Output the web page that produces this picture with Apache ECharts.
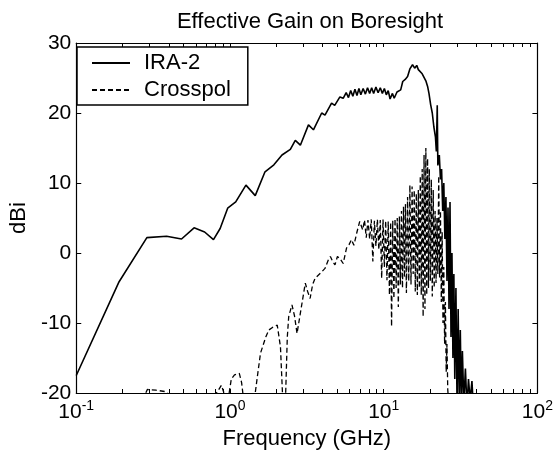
<!DOCTYPE html>
<html>
<head>
<meta charset="utf-8">
<script src="https://cdn.jsdelivr.net/npm/echarts@6/dist/echarts.min.js"></script>
<style>
  html, body { margin: 0; padding: 0; background: #fff; }
  #chart { width: 556px; height: 456px; }
</style>
</head>
<body>
<div id="chart"></div>
<script>
// frequency (GHz), gain (dBi)
const ira2 = [
  [0.1, -17.5], [0.19, -4.1], [0.288, 2.2], [0.387, 2.4], [0.484, 2.0], [0.584, 3.6],
  [0.684, 3.0], [0.781, 1.9], [0.863, 3.5], [0.966, 6.4], [1.09, 7.3], [1.27, 9.7],
  [1.46, 8.2], [1.69, 11.6], [1.93, 12.6], [2.18, 14.0], [2.47, 14.8], [2.66, 16.1],
  [2.87, 15.4], [3.24, 18.3], [3.49, 17.6], [3.95, 20.0], [4.15, 19.7], [4.58, 21.4],
  [4.8, 21.1], [5.19, 22.3], [5.45, 22.1], [5.7, 22.9], [5.9, 22.2], [6.1, 23.2],
  [6.3, 22.4], [6.5, 23.4], [6.7, 22.5], [6.9, 23.5], [7.1, 22.6], [7.35, 23.5],
  [7.6, 22.7], [7.85, 23.6], [8.1, 22.8], [8.35, 23.6], [8.6, 22.8], [8.9, 23.7],
  [9.2, 22.9], [9.5, 23.6], [9.8, 22.8], [10.1, 23.5], [10.4, 22.6], [10.7, 23.2],
  [11.0, 22.0], [11.4, 22.8], [11.7, 22.1], [12.2, 23.0], [12.9, 23.3], [13.3, 24.5],
  [13.8, 24.8], [14.3, 25.2], [14.8, 26.3], [15.4, 26.9], [15.9, 26.4], [16.4, 26.8],
  [16.8, 26.2], [17.3, 26.3], [17.8, 25.6], [18.3, 25.7], [18.8, 24.6], [19.3, 23.8],
  [19.7, 22.8], [20.2, 21.2], [20.7, 20.0], [21.2, 18.0], [21.7, 16.6], [22.0, 14.5],
  [22.3, 21.1], [22.5, 12.5], [23.0, 14.0], [23.4, 10.5], [23.8, 12.0], [24.2, 6.0],
  [24.6, 10.0], [25.0, 2.0], [25.4, 8.0], [25.8, -4.0], [26.2, 6.5], [26.6, -8.0],
  [27.0, 7.3], [27.4, -12.0], [27.8, 0.0], [28.2, -15.0], [28.6, -3.0], [29.0, -18.0],
  [29.5, -5.0], [30.0, -22.0], [30.5, -8.0], [31.0, -21.0], [31.5, -11.0], [32.0, -22.0],
  [32.5, -14.0], [33.2, -21.5], [34.0, -16.5], [34.8, -22.0], [35.6, -18.0], [36.5, -21.0],
  [37.5, -18.3], [38.5, -23.0]
];

const crosspol = [
  [0.27, -21.0], [0.29, -19.5], [0.33, -19.6], [0.38, -19.8], [0.42, -20.5], [0.78, -20.5],
  [0.83, -19.8], [0.88, -18.9], [0.93, -20.5], [0.98, -20.5], [1.02, -18.0], [1.07, -17.4],
  [1.15, -17.2], [1.19, -18.5], [1.22, -20.5], [1.45, -20.5], [1.5, -18.0], [1.58, -14.3],
  [1.71, -12.0], [1.79, -11.0], [1.9, -10.6], [2.03, -10.3], [2.13, -13.4], [2.2, -20.5],
  [2.3, -20.5], [2.36, -12.0], [2.41, -9.1], [2.53, -7.4], [2.63, -9.0], [2.73, -11.5],
  [2.87, -8.6], [3.09, -4.3], [3.2, -5.5], [3.32, -6.5], [3.45, -4.5], [3.58, -3.6],
  [3.95, -2.7], [4.15, -2.2], [4.36, -1.0], [4.5, -0.5], [4.65, -1.2], [4.82, -1.7],
  [5.0, -0.5], [5.2, -0.8], [5.45, -1.5], [5.73, 0.7], [5.95, 1.2], [6.17, 1.9],
  [6.4, 1.1], [6.7, 3.0], [6.98, 4.5], [7.3, 3.3], [7.5, 4.7], [7.7, 2.2],
  [7.9, 4.7], [8.1, 2.0], [8.3, 4.8], [8.5, -1.2], [8.7, 4.6], [8.9, 1.0],
  [9.1, 4.8], [9.3, 0.5], [9.5, 4.7], [9.7, -3.6], [9.9, 4.8], [10.1, -2.0],
  [10.3, 4.6], [10.5, -3.9], [10.7, 4.5], [10.9, -6.0], [11.1, 4.4], [11.25, -10.5],
  [11.45, 4.6], [11.65, -6.5], [11.85, 4.9], [12.05, -5.0], [12.25, 5.0], [12.45, -7.7],
  [12.65, 5.2], [12.85, -4.5], [13.05, 6.0], [13.25, -5.0], [13.45, 6.6], [13.65, -3.5],
  [13.85, 7.0], [14.05, -5.7], [14.3, 8.0], [14.55, -4.0], [14.8, 9.7], [15.05, -4.5],
  [15.3, 9.5], [15.55, -3.0], [15.8, 9.0], [16.05, -5.5], [16.3, 8.5], [16.55, -6.0],
  [16.8, 9.0], [17.05, -5.0], [17.3, 11.0], [17.55, -6.0], [17.8, 12.0], [18.05, -9.1],
  [18.3, 14.0], [18.55, -8.0], [18.8, 15.0], [19.05, -6.0], [19.3, 13.5], [19.55, -5.0],
  [19.8, 12.0], [20.1, -4.0], [20.4, 10.5], [20.7, -6.2], [21.0, 9.0], [21.3, -5.0],
  [21.6, 6.0], [21.9, -4.3], [22.2, 5.0], [22.5, -3.0], [22.8, 11.0], [23.1, -3.5],
  [23.4, 6.0], [23.7, -7.0], [24.0, 3.0], [24.3, -10.0], [24.6, -2.0], [24.9, -13.0],
  [25.2, -7.0], [25.5, -17.0], [25.8, -13.0], [26.1, -19.5], [26.4, -21.0]
];

const xTicks = [0.1, 0.2, 0.3, 0.4, 0.5, 0.6, 0.7, 0.8, 0.9,
  1, 2, 3, 4, 5, 6, 7, 8, 9, 10, 20, 30, 40, 50, 60, 70, 80, 90, 100];
const xLabels = [0.1, 1, 10, 100];

const chart = echarts.init(document.getElementById('chart'));

const font = 'Liberation Sans';
const axisLine = { show: true, onZero: false, lineStyle: { color: '#000', width: 1.2 } };

const option = {
  backgroundColor: '#fff',
  animation: false,
  textStyle: { fontFamily: font, color: '#000' },
  title: {
    text: 'Effective Gain on Boresight',
    left: 305,
    top: 6,
    textAlign: 'center',
    textStyle: { fontFamily: font, fontSize: 22, fontWeight: 'normal', color: '#000' }
  },
  legend: {
    orient: 'vertical',
    left: 77,
    top: 47,
    padding: [5, 17, 4, 14],
    itemWidth: 38,
    itemHeight: 14,
    itemGap: 5,
    borderColor: '#000',
    borderWidth: 1.5,
    backgroundColor: '#fff',
    itemStyle: { opacity: 0 },
    textStyle: { fontFamily: font, fontSize: 22, color: '#000', padding: [0, 0, 0, 9] },
    data: ['IRA-2', 'Crosspol']
  },
  grid: { left: 72, right: 18, top: 43, bottom: 63, containLabel: false },
  xAxis: [
    {
      type: 'log',
      logBase: 10,
      min: 0.1,
      max: 100,
      position: 'bottom',
      name: 'Frequency (GHz)',
      nameLocation: 'middle',
      nameGap: 34,
      nameTextStyle: { fontFamily: font, fontSize: 22, color: '#000' },
      axisLine: axisLine,
      axisTick: { show: true, inside: true, length: 4, customValues: xTicks, lineStyle: { color: '#000' } },
      minorTick: { show: false },
      splitLine: { show: false },
      axisLabel: {
        customValues: xLabels,
        margin: 6,
        formatter: v => '{b|10}{s|' + Math.round(Math.log10(v)) + '}',
        rich: {
          b: { fontFamily: font, fontSize: 21, color: '#000', lineHeight: 24, verticalAlign: 'bottom' },
          s: { fontFamily: font, fontSize: 14, color: '#000', lineHeight: 14, verticalAlign: 'top' }
        }
      }
    },
    {
      type: 'log',
      logBase: 10,
      min: 0.1,
      max: 100,
      position: 'top',
      axisLine: axisLine,
      axisTick: { show: true, inside: true, length: 4, customValues: xTicks, lineStyle: { color: '#000' } },
      axisLabel: { show: false },
      splitLine: { show: false }
    }
  ],
  yAxis: [
    {
      type: 'value',
      min: -20,
      max: 30,
      interval: 10,
      position: 'left',
      name: 'dBi',
      nameLocation: 'middle',
      nameGap: 44,
      nameRotate: 90,
      nameTextStyle: { fontFamily: font, fontSize: 22, color: '#000' },
      axisLine: axisLine,
      axisTick: { show: true, inside: true, length: 5, lineStyle: { color: '#000' } },
      axisLabel: { fontFamily: font, fontSize: 21, color: '#000', margin: 5 },
      splitLine: { show: false }
    },
    {
      type: 'value',
      min: -20,
      max: 30,
      interval: 10,
      position: 'right',
      axisLine: axisLine,
      axisTick: { show: true, inside: true, length: 5, lineStyle: { color: '#000' } },
      axisLabel: { show: false },
      splitLine: { show: false }
    }
  ],
  series: [
    {
      name: 'IRA-2',
      type: 'line',
      data: ira2,
      xAxisIndex: 0,
      yAxisIndex: 0,
      symbol: 'none',
      showSymbol: false,
      lineStyle: { color: '#000', width: 1.6, type: 'solid' },
      itemStyle: { color: '#000' },
      z: 3
    },
    {
      name: 'Crosspol',
      type: 'line',
      data: crosspol,
      xAxisIndex: 0,
      yAxisIndex: 0,
      symbol: 'none',
      showSymbol: false,
      lineStyle: { color: '#000', width: 1.3, type: [5, 3] },
      itemStyle: { color: '#000' },
      z: 2
    }
  ]
};

chart.setOption(option);
</script>
</body>
</html>
